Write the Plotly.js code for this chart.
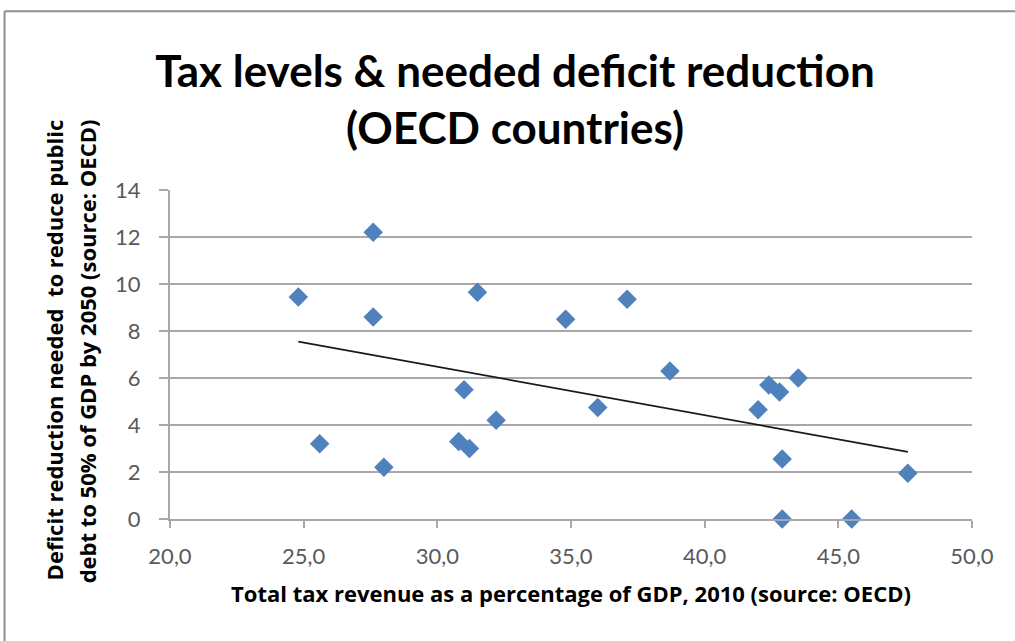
<!DOCTYPE html>
<html>
<head>
<meta charset="utf-8">
<script src="https://cdn.plot.ly/plotly-3.0.1.min.js"></script>
<style>
  html, body { margin: 0; padding: 0; background: #ffffff; }
  #chart { width: 1015px; height: 641px; }
</style>
</head>
<body>
<div id="chart"></div>
<script>
// Total tax revenue, % of GDP 2010 (x) and needed deficit reduction (y)
const taxRevenue = [24.8, 27.6, 27.6, 31.5, 34.8, 25.6, 28.0, 31.0, 30.8, 31.2, 32.2,
                    36.0, 37.1, 38.7, 42.0, 42.4, 42.8, 43.5, 42.9, 47.6, 42.9, 45.5];
const deficitReduction = [9.45, 12.2, 8.6, 9.65, 8.5, 3.2, 2.2, 5.5, 3.3, 3.0, 4.2,
                          4.75, 9.35, 6.3, 4.65, 5.7, 5.4, 6.0, 2.55, 1.95, 0.0, 0.0];

const chartTitle = 'Tax levels & needed deficit reduction<br>(OECD countries)';
const xTitle = 'Total tax revenue as a percentage of GDP, 2010 (source: OECD)';
const yTitleLines = ['Deficit reduction needed  to reduce public',
                     'debt to 50% of GDP by 2050 (source: OECD)'];
const xTicks = [20, 25, 30, 35, 40, 45, 50];
const yTicks = [0, 2, 4, 6, 8, 10, 12, 14];

// linear trendline (least squares) computed from the data
const n = taxRevenue.length;
const mx = taxRevenue.reduce((a, b) => a + b, 0) / n;
const my = deficitReduction.reduce((a, b) => a + b, 0) / n;
let sxy = 0, sxx = 0;
for (let i = 0; i < n; i++) {
  sxy += (taxRevenue[i] - mx) * (deficitReduction[i] - my);
  sxx += (taxRevenue[i] - mx) ** 2;
}
const slope = sxy / sxx;
const intercept = my - slope * mx;
const xMin = Math.min(...taxRevenue), xMax = Math.max(...taxRevenue);
const trendX = [xMin, xMax];
const trendY = trendX.map(v => intercept + slope * v);

const gridColor = '#a8a8a8';
const tickColor = '#595959';
const font = 'Lato, "Open Sans", sans-serif';
const axisTitleFont = '"Open Sans", Lato, sans-serif';

const data = [
  {
    x: taxRevenue, y: deficitReduction,
    type: 'scatter', mode: 'markers',
    marker: { symbol: 'diamond', size: 15, color: '#4f81bd' },
    cliponaxis: false,
    showlegend: false
  },
  {
    x: trendX, y: trendY,
    type: 'scatter', mode: 'lines',
    line: { color: '#1a1a1a', width: 1.7 },
    showlegend: false
  }
];

const plotL = 169.5, plotR = 971.7, plotT = 190, plotB = 519.3;
const pw = plotR - plotL, ph = plotB - plotT;
const px = v => (v - plotL) / pw;
const py = v => (plotB - v) / ph;

const layout = {
  width: 1015, height: 641,
  paper_bgcolor: '#ffffff', plot_bgcolor: '#ffffff',
  separators: ',.',
  margin: { l: plotL, r: 1015 - plotR, t: plotT, b: 641 - plotB, pad: 0 },
  font: { family: font, color: '#000000' },
  title: {
    text: chartTitle,
    font: { family: font, size: 44, color: '#000000', weight: 'bold' },
    xref: 'container', yref: 'container',
    x: 515 / 1015, xanchor: 'center',
    y: 1 - 87 / 641, yanchor: 'middle'
  },
  xaxis: {
    range: [20, 50],
    tickvals: xTicks,
    tickformat: '.1f',
    showgrid: false, zeroline: false,
    showline: true, linecolor: gridColor, linewidth: 2,
    ticks: 'outside', ticklen: 7, tickwidth: 2, tickcolor: gridColor,
    tickfont: { family: font, size: 22, color: tickColor },
    ticklabelstandoff: 10,
    title: {
      text: xTitle,
      font: { family: axisTitleFont, size: 22, color: '#000000', weight: 'bold' },
      standoff: 18
    },
    fixedrange: true
  },
  yaxis: {
    range: [0, 14],
    tickvals: yTicks,
    showgrid: true, gridcolor: gridColor, gridwidth: 2,
    zeroline: false,
    showline: true, linecolor: gridColor, linewidth: 2,
    ticks: 'outside', ticklen: 9, tickwidth: 2, tickcolor: gridColor,
    tickfont: { family: font, size: 22, color: tickColor },
    ticklabelstandoff: 14,
    fixedrange: true
  },
  annotations: [
    {
      text: '<b>' + yTitleLines[0] + '</b>',
      xref: 'paper', yref: 'paper',
      x: px(53), y: py(350), xanchor: 'center', yanchor: 'middle',
      textangle: -90, showarrow: false,
      font: { family: axisTitleFont, size: 22, color: '#000000' }
    },
    {
      text: '<b>' + yTitleLines[1] + '</b>',
      xref: 'paper', yref: 'paper',
      x: px(86), y: py(352), xanchor: 'center', yanchor: 'middle',
      textangle: -90, showarrow: false,
      font: { family: axisTitleFont, size: 22, color: '#000000' }
    }
  ],
  shapes: [
    { type: 'line', xref: 'paper', yref: 'paper',
      x0: px(4), x1: px(1020), y0: py(11), y1: py(11),
      line: { color: '#8f8f8f', width: 2 } },
    { type: 'line', xref: 'paper', yref: 'paper',
      x0: px(4), x1: px(4), y0: py(11), y1: py(650),
      line: { color: '#8f8f8f', width: 2 } }
  ]
};

Plotly.newPlot('chart', data, layout, { displayModeBar: false, staticPlot: true });
</script>
</body>
</html>
